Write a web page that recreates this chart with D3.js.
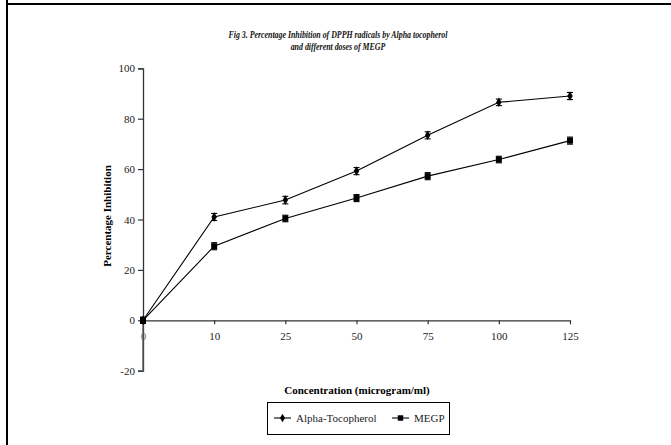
<!DOCTYPE html>
<html>
<head>
<meta charset="utf-8">
<script src="https://cdn.jsdelivr.net/npm/d3@7"></script>
<style>
body { margin: 0; background: #fff; }
svg { display: block; }
svg text { font-family: 'Liberation Serif', 'Times New Roman', serif; }
</style>
</head>
<body>
<svg id="chart" width="671" height="445"></svg>
<script>
// data
const concentrations = ['0', '10', '25', '50', '75', '100', '125'];
const alpha_values = [0, 41.0, 47.7, 59.2, 73.4, 86.5, 89.0];
const alpha_errors = [1.2, 1.4, 1.5, 1.4, 1.4, 1.3, 1.4];
const megp_values = [0, 29.4, 40.4, 48.5, 57.2, 63.8, 71.3];
const megp_errors = [1.2, 1.4, 1.3, 1.4, 1.4, 1.3, 1.4];
const y_ticks = [-20, 0, 20, 40, 60, 80, 100];
const series_names = ['Alpha-Tocopherol', 'MEGP'];

const font = "'Liberation Serif', 'Times New Roman', serif";
const svg = d3.select('#chart');

// page frame (top and left rules)
svg.append('rect').attr('x', 6).attr('y', 0).attr('width', 2).attr('height', 445).attr('fill', '#000');
svg.append('rect').attr('x', 6).attr('y', 3).attr('width', 665).attr('height', 2).attr('fill', '#000');

// title, a bit narrow like the original
var title = svg.append('g')
	.attr('transform', 'translate(338,0) scale(0.75,1)')
	.append('text')
	.attr('text-anchor', 'middle')
	.attr('font-family', font)
	.style('font-size', '10.5px')
	.style('font-weight', 'bold')
	.style('font-style', 'italic')
	.attr('fill', '#111')
title.append('tspan').attr('x', 0).attr('y', 38.5)
	.text('Fig 3. Percentage Inhibition of DPPH radicals by Alpha tocopherol')
title.append('tspan').attr('x', 0).attr('y', 50.5)
	.text('and different doses of MEGP')

const x = d3.scalePoint().domain(concentrations).range([143, 570]);
const y = d3.scaleLinear().domain([-20, 100]).range([370.7, 68.3]);

// y axis
var yAxis = svg.append('g')
	.attr('transform', 'translate(143,0)')
	.call(d3.axisLeft(y).tickValues(y_ticks).tickFormat(d => String(d)).tickSize(5).tickPadding(3))
	.attr('font-family', font)
yAxis.select('.domain').attr('stroke', '#333').attr('stroke-width', 1.3)
yAxis.selectAll('.tick line').attr('stroke', '#333').attr('stroke-width', 1.2)
yAxis.selectAll('text')
	.style('font-size', '11px')
	.attr('fill', '#222')

// x axis along zero
var xAxis = svg.append('g')
	.attr('transform', 'translate(0,' + y(0) + ')')
	.call(d3.axisBottom(x).tickSize(4).tickPadding(8).tickSizeOuter(0))
	.attr('font-family', font)
xAxis.select('.domain').attr('stroke', '#333').attr('stroke-width', 1.3)
xAxis.selectAll('.tick line').attr('stroke', '#333').attr('stroke-width', 1.2)
xAxis.selectAll('text')
	.style('font-size', '11px')
	.attr('fill', '#222')
xAxis.selectAll('.tick').filter(d => d == '0').select('text').attr('fill', '#777')
// y axis runs over the "0" label, so redraw its line on top
svg.append('line')
	.attr('x1', 143).attr('x2', 143)
	.attr('y1', y(0)).attr('y2', y(-20))
	.attr('stroke', '#555').attr('stroke-width', 1.3)

// axis titles
svg.append('text')
	.attr('transform', 'translate(111,' + 216 + ') rotate(-90)')
	.attr('text-anchor', 'middle')
	.style('font-size', '11px')
	.style('font-weight', 'bold')
	.text('Percentage Inhibition')
svg.append('text')
	.attr('x', 357).attr('y', 394)
	.attr('text-anchor', 'middle')
	.style('font-size', '11px')
	.style('font-weight', 'bold')
	.text('Concentration (microgram/ml)')

function draw_series(values, errors, symbol, size) {
	var pts = values.map((v, i) => ({c: concentrations[i], v: v, e: errors[i]}));
	var line = d3.line().x(d => x(d.c)).y(d => y(d.v));
	svg.append('path')
		.datum(pts)
		.attr('d', line)
		.attr('fill', 'none')
		.attr('stroke', '#000')
		.attr('stroke-width', 1.1)

	var eb = svg.append('g').attr('stroke', '#000').attr('stroke-width', 1.1)
	pts.forEach(function(d) {
		var cx = x(d.c);
		eb.append('line').attr('x1', cx).attr('x2', cx).attr('y1', y(d.v + d.e)).attr('y2', y(d.v - d.e))
		eb.append('line').attr('x1', cx - 3).attr('x2', cx + 3).attr('y1', y(d.v + d.e)).attr('y2', y(d.v + d.e))
		eb.append('line').attr('x1', cx - 3).attr('x2', cx + 3).attr('y1', y(d.v - d.e)).attr('y2', y(d.v - d.e))
	});

	svg.append('g').selectAll('path')
		.data(pts)
		.join('path')
		.attr('transform', d => 'translate(' + x(d.c) + ',' + y(d.v) + ')')
		.attr('d', d3.symbol().type(symbol).size(size))
		.attr('fill', '#000')
}

draw_series(megp_values, megp_errors, d3.symbolSquare, 36);
draw_series(alpha_values, alpha_errors, d3.symbolDiamond, 26);

// legend
var legend = svg.append('g')
legend.append('rect')
	.attr('x', 267.5).attr('y', 402.5).attr('width', 182).attr('height', 32)
	.attr('fill', '#fff').attr('stroke', '#000').attr('stroke-width', 1)

var legend_items = [
	{name: series_names[0], sym: d3.symbolDiamond, size: 22, x0: 274, tx: 296},
	{name: series_names[1], sym: d3.symbolSquare, size: 30, x0: 392, tx: 414},
];
legend_items.forEach(function(it) {
	legend.append('line')
		.attr('x1', it.x0).attr('x2', it.x0 + 17)
		.attr('y1', 418).attr('y2', 418)
		.attr('stroke', '#000').attr('stroke-width', 1.1)
	legend.append('path')
		.attr('transform', 'translate(' + (it.x0 + 8.5) + ',418)')
		.attr('d', d3.symbol().type(it.sym).size(it.size))
		.attr('fill', '#000')
	legend.append('text')
		.attr('x', it.tx).attr('y', 422)
		.style('font-size', '11px')
		.attr('fill', '#222')
		.text(it.name)
});
</script>
</body>
</html>
